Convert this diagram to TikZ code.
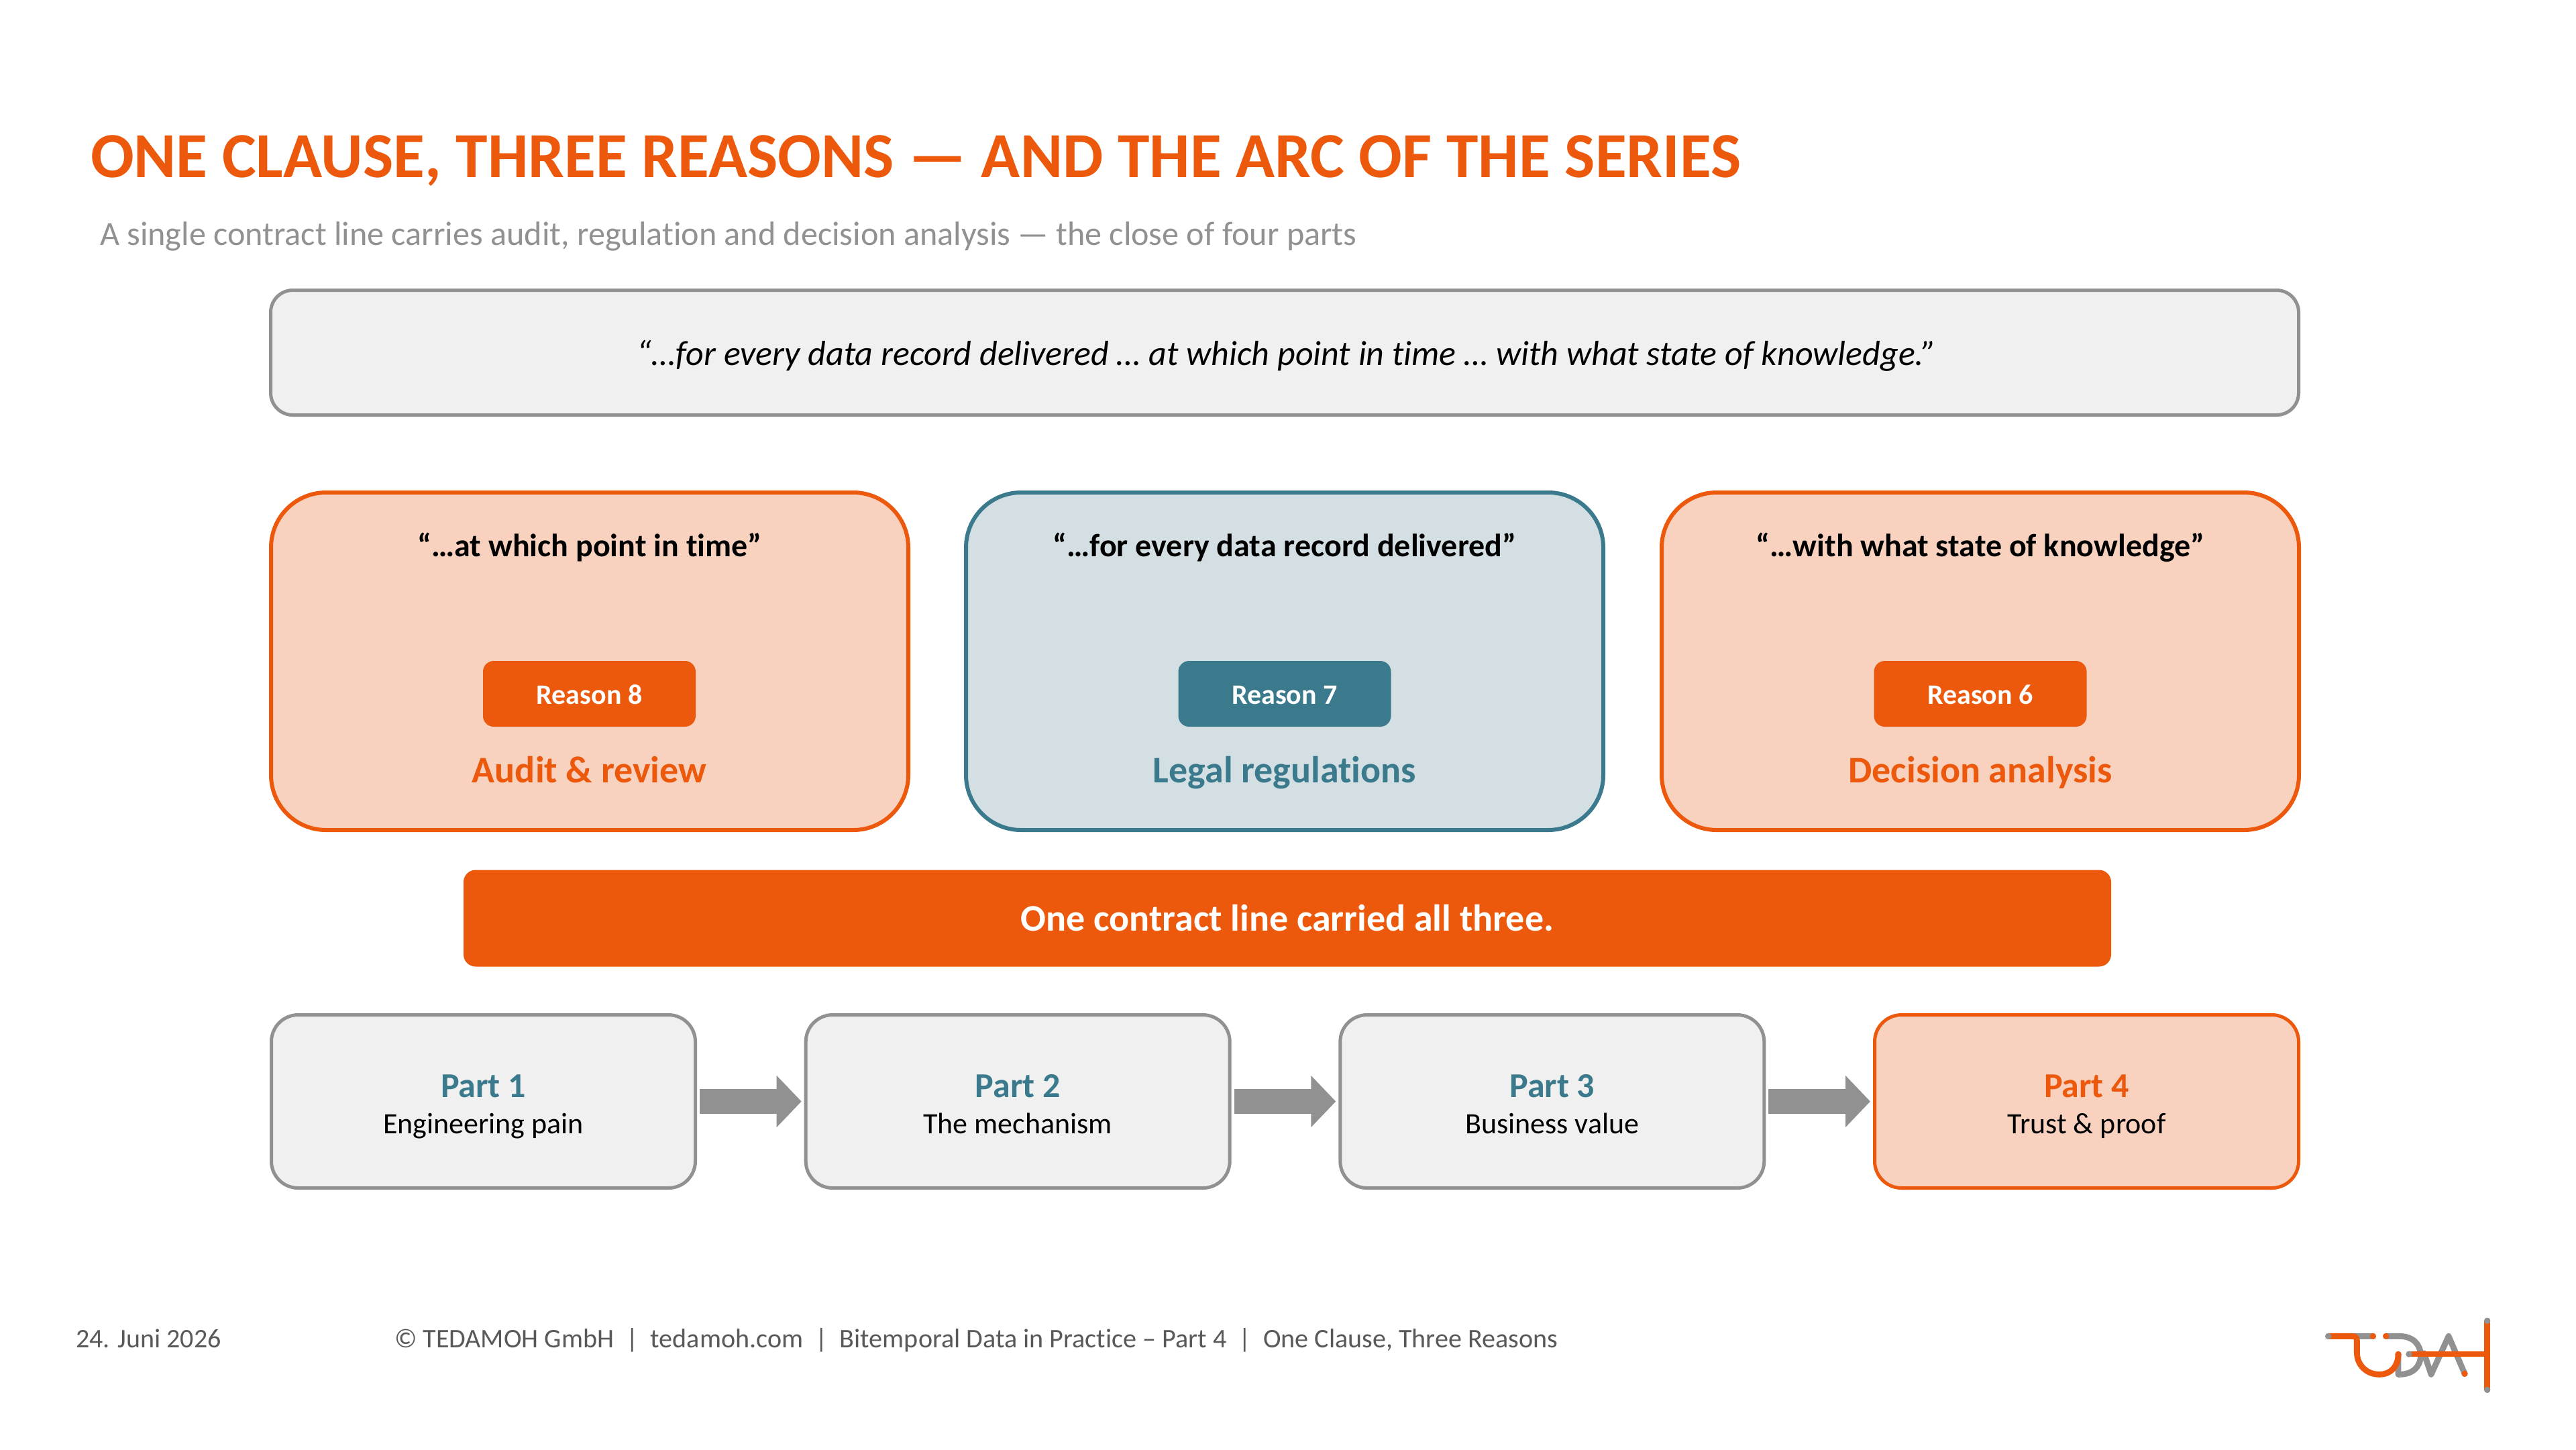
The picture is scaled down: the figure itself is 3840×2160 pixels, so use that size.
\documentclass[tikz,border=0pt]{standalone}
\usepackage{fontspec}
\setmainfont{Carlito}[Ligatures=NoCommon]
\usetikzlibrary{arrows.meta}
\definecolor{brand}{HTML}{EC590D}
\definecolor{teal}{HTML}{3A7A8C}
\definecolor{peach}{HTML}{F8D2BF}
\definecolor{mist}{HTML}{D4DFE3}
\definecolor{paper}{HTML}{F0F0F0}
\definecolor{stone}{HTML}{919191}
\definecolor{foot}{HTML}{595959}
\newcommand{\fsz}[1]{\fontsize{#1}{#1}\selectfont}
\tikzset{
  base/.style={rectangle,inner sep=0pt,outer sep=0pt},
  quotebox/.style={base,draw=stone,fill=paper,line width=2.5pt,minimum width=1511.5pt,minimum height=93pt,rounded corners=16.5pt},
  reasonbox/.style={base,line width=3pt,minimum width=475pt,minimum height=251.5pt,rounded corners=41pt},
  warm/.style={draw=brand,fill=peach},
  cool/.style={draw=teal,fill=mist},
  pill/.style={base,minimum width=158.5pt,minimum height=49pt,rounded corners=8pt,text=white},
  bar/.style={base,fill=brand,minimum width=1228pt,minimum height=72pt,rounded corners=9pt},
  partbox/.style={base,line width=2.5pt,minimum width=316pt,minimum height=129pt,rounded corners=20pt},
  plain/.style={draw=stone,fill=paper},
  label/.style={inner sep=0pt,outer sep=0pt,anchor=base},
  flow/.style={draw=stone,line width=18.5pt,-{Triangle[length=18.5pt,width=37.5pt]},shorten <=3.25pt,shorten >=3.25pt},
  logoline/.style={line width=4.4pt,line cap=round,line join=round}
}
\begin{document}
\begin{tikzpicture}[x=0.5pt,y=-0.5pt]
\useasboundingbox (0,0) rectangle (3840,2160);
\fill[white] (0,0) rectangle (3840,2160);
\node[label,anchor=base west,text=brand] (title) at (135,264) {\fsz{47.9}\bfseries ONE CLAUSE, THREE REASONS — AND THE ARC OF THE SERIES};
\node[label,anchor=base west,text=stone] (subtitle) at (149,365) {\fsz{25.1}A single contract line carries audit, regulation and decision analysis — the close of four parts};
\node[quotebox] (clause) at (1915,525.5) {};
\node[label] (clausetext) at (1918,544) {\fsz{26}\itshape “…for every data record delivered … at which point in time … with what state of knowledge.”};

\node[reasonbox,warm] (r8) at (879,985.5) {};
\node[reasonbox,cool] (r7) at (1915,985.5) {};
\node[reasonbox,warm] (r6) at (2952,985.5) {};
\node[label] (q8) at (879,829) {\fsz{24}\bfseries “…at which point in time”};
\node[label] (q7) at (1915,829) {\fsz{24}\bfseries “…for every data record delivered”};
\node[label] (q6) at (2952,829) {\fsz{24}\bfseries “…with what state of knowledge”};
\node[pill,fill=brand] (t8) at (878.5,1034) {};
\node[pill,fill=teal] (t7) at (1915,1034) {};
\node[pill,fill=brand] (t6) at (2952,1034) {};
\node[label,text=white] (l8) at (878.5,1049) {\fsz{21}\bfseries Reason 8};
\node[label,text=white] (l7) at (1915,1049) {\fsz{21}\bfseries Reason 7};
\node[label,text=white] (l6) at (2952,1049) {\fsz{21}\bfseries Reason 6};
\node[label,text=brand] (a8) at (878.5,1166) {\fsz{28}\bfseries Audit \& review};
\node[label,text=teal] (a7) at (1915,1166) {\fsz{28}\bfseries Legal regulations};
\node[label,text=brand] (a6) at (2952,1166) {\fsz{28}\bfseries Decision analysis};

\node[bar] (carried) at (1919,1368.5) {};
\node[label,text=white] (carriedtext) at (1919,1387) {\fsz{28}\bfseries One contract line carried all three.};

\node[partbox,plain] (p1) at (720.5,1641.5) {};
\node[partbox,plain] (p2) at (1517.2,1641.5) {};
\node[partbox,plain] (p3) at (2313.8,1641.5) {};
\node[partbox,warm] (p4) at (3110.5,1641.5) {};
\foreach \n/\x/\t/\s/\c in {1/720.5/Part 1/Engineering pain/teal,2/1517.2/Part 2/The mechanism/teal,3/2313.8/Part 3/Business value/teal,4/3110.5/Part 4/Trust \& proof/brand}{
  \node[label,text=\c] (pt\n) at (\x,1635) {\fsz{26}\bfseries \t};
  \node[label] (ps\n) at (\x,1689) {\fsz{22}\s};
}
\draw[flow] (p1) -- (p2);
\draw[flow] (p2) -- (p3);
\draw[flow] (p3) -- (p4);

\node[label,anchor=base west,text=foot] (date) at (113,2008) {\fsz{20}24. Juni 2026};
\node[label,anchor=base west,text=foot] (footer) at (588,2008) {\fsz{20.05}© TEDAMOH GmbH\ \ |\ \ tedamoh.com\ \ |\ \ Bitemporal Data in Practice – Part 4\ \ |\ \ One Clause, Three Reasons};

\begin{scope}[shift={(3400,1920)},x=0.1667pt,y=-0.1667pt]
 \draw[logoline,stone] (330,214) -- (412,214);
 \draw[logoline,stone] (470,214) -- (530,214) .. controls (590,214) and (625,250) .. (625,300) .. controls (625,350) and (590,385) .. (530,385) -- (525,385) -- (525,295);
 \draw[logoline,brand] (212,214) -- (320,214) .. controls (334,214) and (340,222) .. (340,235) -- (340,285) .. controls (340,345) and (385,385) .. (440,385) .. controls (495,385) and (525,345) .. (525,295);
 \draw[logoline,stone] (640,290) -- (672,385) -- (750,214) -- (822,382);
 \draw[logoline,brand] (573,294) -- (923,294);
 \draw[logoline,brand] (923,145) -- (923,454);
 \fill[stone] (212,214) circle (14);
 \fill[brand] (412,214) circle (14);
 \fill[brand] (470,214) circle (14);
 \fill[brand] (525,295) circle (14);
 \fill[stone] (573,294) circle (14);
 \fill[brand] (822,382) circle (14);
 \fill[stone] (923,145) circle (14);
 \fill[stone] (923,454) circle (14);
\end{scope}
\end{tikzpicture}
\end{document}
